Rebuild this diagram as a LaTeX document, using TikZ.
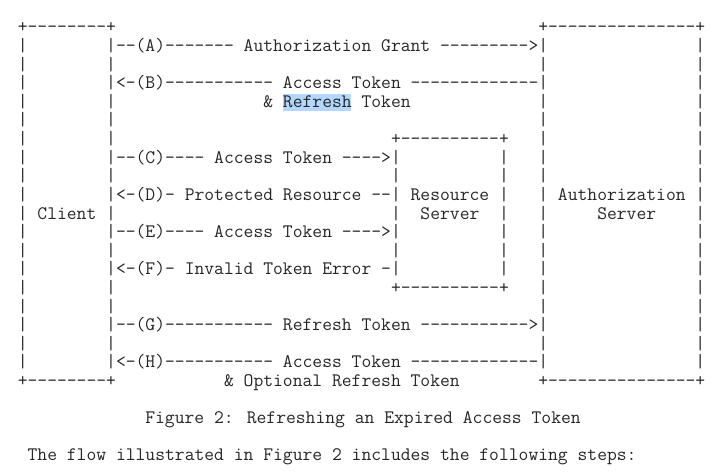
\documentclass[tikz,border=0pt]{standalone}
\usepackage{fontspec}
\definecolor{ink}{HTML}{262626}
\definecolor{selblue}{HTML}{B3D7FF}
\newlength\cwlen
\newcommand\gap[1]{\settowidth{\cwlen}{0}\hspace*{#1\cwlen}}
\tikzset{
  asciitxt/.style={anchor=base west, inner sep=0pt, outer sep=0pt,
    font=\ttfamily\fontsize{19.07}{18.6}\selectfont, text=ink},
}
% row r baseline at y = -(33 + 18.6 r); column c left edge at x = -1.8 + 9.81 c
\newcommand\asciirow[3]{\node[asciitxt] (l#1) at ({-1.8+9.81*#2},{-(33+18.6*#1)}) {#3};}
\begin{document}
\begin{tikzpicture}[x=1pt,y=1pt]
\useasboundingbox (0,0) rectangle (718,-476);
% selection highlight behind "Refresh"
\fill[selblue] (282.7,-94) rectangle (351.4,-111.5);
\asciirow{0}{2}{+--------+\gap{43}+---------------+}
\asciirow{1}{2}{|\gap{8}|--(A)------- Authorization Grant --------->|\gap{15}|}
\asciirow{2}{2}{|\gap{8}|\gap{43}|\gap{15}|}
\asciirow{3}{2}{|\gap{8}|<-(B)----------- Access Token -------------|\gap{15}|}
\asciirow{4}{2}{|\gap{8}|\gap{15}\& Refresh Token\gap{13}|\gap{15}|}
\asciirow{5}{2}{|\gap{8}|\gap{43}|\gap{15}|}
\asciirow{6}{2}{|\gap{8}|\gap{28}+----------+\gap{3}|\gap{15}|}
\asciirow{7}{2}{|\gap{8}|--(C)---- Access Token ---->|\gap{10}|\gap{3}|\gap{15}|}
\asciirow{8}{2}{|\gap{8}|\gap{28}|\gap{10}|\gap{3}|\gap{15}|}
\asciirow{9}{2}{|\gap{8}|<-(D)- Protected Resource --| Resource |\gap{3}| Authorization |}
\asciirow{10}{2}{| Client |\gap{28}|\gap{2}Server\gap{2}|\gap{3}|\gap{5}Server\gap{4}|}
\asciirow{11}{2}{|\gap{8}|--(E)---- Access Token ---->|\gap{10}|\gap{3}|\gap{15}|}
\asciirow{12}{2}{|\gap{8}|\gap{28}|\gap{10}|\gap{3}|\gap{15}|}
\asciirow{13}{2}{|\gap{8}|<-(F)- Invalid Token Error -|\gap{10}|\gap{3}|\gap{15}|}
\asciirow{14}{2}{|\gap{8}|\gap{28}+----------+\gap{3}|\gap{15}|}
\asciirow{15}{2}{|\gap{8}|\gap{43}|\gap{15}|}
\asciirow{16}{2}{|\gap{8}|--(G)----------- Refresh Token ----------->|\gap{15}|}
\asciirow{17}{2}{|\gap{8}|\gap{43}|\gap{15}|}
\asciirow{18}{2}{|\gap{8}|<-(H)----------- Access Token -------------|\gap{15}|}
\asciirow{19}{2}{+--------+\gap{11}\& Optional Refresh Token\gap{8}+---------------+}
\asciirow{21}{15}{Figure 2: Refreshing an Expired Access Token}
\asciirow{23}{3}{The flow illustrated in Figure 2 includes the following steps:}
\end{tikzpicture}
\end{document}
